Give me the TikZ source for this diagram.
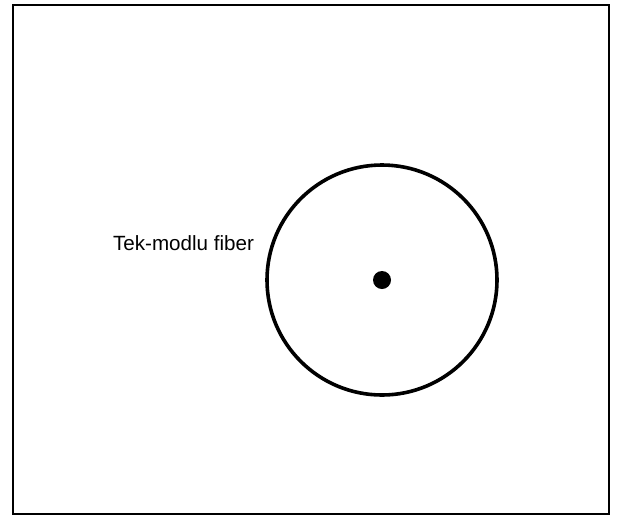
\documentclass[tikz,border=0pt]{standalone}
\usepackage{fontspec}
\setmainfont{Liberation Sans}
\begin{document}
\begin{tikzpicture}[x=1pt,y=-1pt,
  frame/.style={draw=black,line width=2.6pt},
  fiber/.style={draw=black,line width=3.6pt},
  core/.style={fill=black,circle,inner sep=0pt,minimum size=18pt},
  lbl/.style={font=\fontsize{20.6}{24}\selectfont,inner sep=0pt,anchor=base}]
\useasboundingbox (0,0) rectangle (618,520);
\draw[frame] (13,5) rectangle (609,514);
\node[fiber,circle,minimum width=230pt,inner sep=0pt] (clad) at (382,280) {};
\node[core] (c) at (382,280) {};
\node[lbl] (t) at (183.5,250) {Tek-modlu fiber};
\end{tikzpicture}
\end{document}
